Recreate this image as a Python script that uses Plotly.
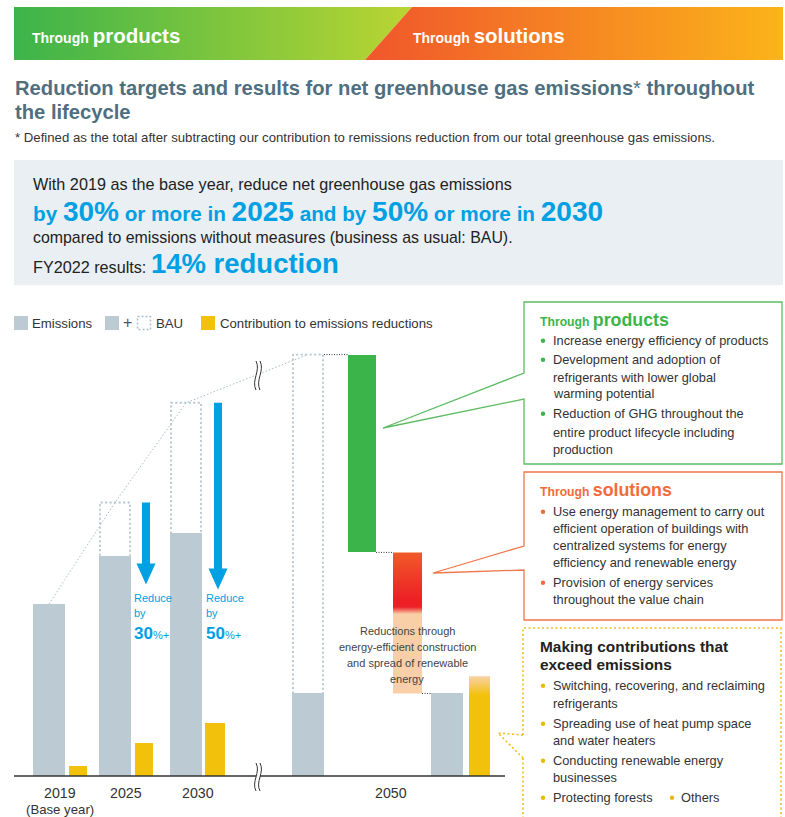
import plotly.graph_objects as go

# ---------------- data (index: 2019 emissions = 100) ----------------
years = ["2019", "2025", "2030", "2050"]
year_notes = ["(Base year)", "", "", ""]
emissions = [100, 128, 141, 48]
bau = [100, 159, 217, 245]
contribution = [6, 19, 31, 58]
reduction_target_pct = [0, 30, 50, 0]
reduction_2050 = [115, 35, 47]   # products, solutions, construction & renewables
legend_labels = ["Emissions", "BAU", "Contribution to emissions reductions"]

# ---------------- layout constants (pixels) ----------------
W, H = 785, 817
BASE_PX, PXU = 776, 1.72
EM_X = [49, 115, 186, 308]
EM_W = 32
CO_X = [78, 144, 215, 479.5]
CO_W = [18, 18, 20, 21]
NET_X = 447
STEP_X = [362, 407.5]
STEP_W = [28, 29]
ARROW_X = [None, 146, 218, None]

GRAY = "#bccbd3"
YEL = "#f2c10b"
BLUE = "#00a0e3"
GREEN = "#3bb54a"
ORANGE = "#f26b3a"
TXT = "#333333"
COND = "Liberation Sans Narrow, Arial Narrow, Liberation Sans, sans-serif"
NORM = "Liberation Sans, Arial, sans-serif"

fig = go.Figure()

def poly(xs, ys, axis="y", fillcolor=None, gradient=None):
    kw = dict(x=xs, y=ys, yaxis=axis, fill="toself", mode="lines",
              line=dict(width=0, color="rgba(0,0,0,0)"), hoverinfo="skip")
    if gradient is not None:
        kw["fillgradient"] = gradient
    else:
        kw["fillcolor"] = fillcolor
    fig.add_trace(go.Scatter(**kw))

def dline(xs, ys, color, width, dash, axis="y"):
    fig.add_trace(go.Scatter(x=xs, y=ys, yaxis=axis, mode="lines",
                             line=dict(color=color, width=width, dash=dash),
                             hoverinfo="skip"))

def txt(x, y, s, size, color=TXT, family=COND, xanchor="left", yanchor="middle", align="left"):
    fig.add_annotation(x=x, y=y, xref="x", yref="y2", text=s, showarrow=False,
                       font=dict(size=size, color=color, family=family),
                       xanchor=xanchor, yanchor=yanchor, align=align, borderpad=0)

def shape(**kw):
    kw.setdefault("xref", "x")
    kw.setdefault("yref", "y2")
    fig.add_shape(**kw)

# ---------------- header band ----------------
DT, DB = 412, 365
poly([14, DT, DB, 14, 14], [7, 7, 60, 60, 7], axis="y2",
     gradient=dict(type="horizontal", colorscale=[[0, "#3cb44a"], [1, "#bad532"]]))
poly([DT, 783, 783, DB, DT], [7, 7, 60, 60, 7], axis="y2",
     gradient=dict(type="horizontal", colorscale=[[0, "#f0562b"], [1, "#fbb41a"]]))
txt(31, 35, "<b>Through <span style='font-size:20.5px'>products</span></b>", 14, "white")
txt(412, 35, "<b>Through <span style='font-size:20.5px'>solutions</span></b>", 14, "white")

# ---------------- title ----------------
TITLE = "#4f6f7f"
txt(14, 88, "<b>Reduction targets and results for net greenhouse gas emissions</b>* <b>throughout</b>", 20.2, TITLE, NORM)
txt(14, 112, "<b>the lifecycle</b>", 20.2, TITLE, NORM)
txt(14, 137, "* Defined as the total after subtracting our contribution to remissions reduction from our total greenhouse gas emissions.", 13.2, TXT, NORM)

# ---------------- info box ----------------
shape(type="rect", x0=14, x1=783, y0=160, y1=285, fillcolor="#e9eff3", line_width=0, layer="below")
txt(32, 184, "With 2019 as the base year, reduce net greenhouse gas emissions", 16.2, "#222", NORM)
big = "<span style='font-size:28px'>%s</span>"
txt(32, 211, "<b>by " + big % "30%" + " or more in " + big % "2025" + " and by " + big % "50%"
    + " or more in " + big % "2030" + "</b>", 20.7, BLUE, NORM)
txt(32, 237, "compared to emissions without measures (business as usual: BAU).", 15.9, "#222", NORM)
txt(32, 263, "FY2022 results: <b><span style='font-size:27.5px;color:" + BLUE + "'>14% reduction</span></b>", 16.2, "#222", NORM)

# ---------------- legend ----------------
LEG = 13.2
shape(type="rect", x0=14, x1=28, y0=316, y1=330, fillcolor=GRAY, line_width=0)
txt(31, 323, legend_labels[0], LEG)
shape(type="rect", x0=105, x1=119, y0=316, y1=330, fillcolor=GRAY, line_width=0)
txt(127, 322, "+", 16, "#555", xanchor="center")
shape(type="rect", x0=137.5, x1=150.5, y0=316.5, y1=329.5, fillcolor="rgba(0,0,0,0)",
      line=dict(color="#aabdc9", width=1.5, dash="2px,2px"))
txt(155, 323, legend_labels[1], LEG)
shape(type="rect", x0=201, x1=215, y0=316, y1=330, fillcolor=YEL, line_width=0)
txt(219, 323, legend_labels[2], LEG)

# ---------------- bars ----------------
fig.add_trace(go.Bar(x=EM_X, y=emissions, width=EM_W, marker=dict(color=GRAY, line_width=0), hoverinfo="skip"))
net_2050 = bau[3] - sum(reduction_2050)
fig.add_trace(go.Bar(x=[NET_X], y=[net_2050], width=EM_W, marker=dict(color=GRAY, line_width=0), hoverinfo="skip"))
fig.add_trace(go.Bar(x=CO_X[:3], y=contribution[:3], width=CO_W[:3], marker=dict(color=YEL, line_width=0), hoverinfo="skip"))

# 2050 contribution (exceeds emissions -> peach top)
c3 = contribution[3]
xl, xr = CO_X[3] - CO_W[3] / 2, CO_X[3] + CO_W[3] / 2
f = net_2050 / c3
poly([xl, xr, xr, xl, xl], [0, 0, c3, c3, 0],
     gradient=dict(type="vertical", colorscale=[[0, YEL], [f - 0.02, YEL], [1, "#f8d2a6"]]))

# 2050 step: products (green)
lvl1 = bau[3] - reduction_2050[0]
fig.add_trace(go.Bar(x=[STEP_X[0]], y=[reduction_2050[0]], base=[lvl1], width=STEP_W[0],
                     marker=dict(color=GREEN, line_width=0), hoverinfo="skip"))
# solutions (red gradient) + construction/renewables (peach)
lvl2 = lvl1 - reduction_2050[1]
lvl3 = lvl2 - reduction_2050[2]
xl, xr = STEP_X[1] - STEP_W[1] / 2, STEP_X[1] + STEP_W[1] / 2
fp = (lvl2 - lvl3) / (lvl1 - lvl3)
poly([xl, xr, xr, xl, xl], [lvl3, lvl3, lvl1, lvl1, lvl3],
     gradient=dict(type="vertical", colorscale=[[0, "#f8cfa6"], [fp - 0.01, "#f8cfa6"],
                                               [fp + 0.04, "#ec2027"], [fp + 0.09, "#ed1f25"],
                                               [1, "#f15a29"]]))

# BAU dotted boxes
for i in (1, 2, 3):
    x0, x1 = EM_X[i] - EM_W / 2 + 1, EM_X[i] + EM_W / 2 - 1
    dline([x0, x0, x1, x1], [emissions[i], bau[i], bau[i], emissions[i]], "#b3c5d0", 1.8, "2px,2.5px")

# BAU trend line
dline(EM_X, bau, "#aabdca", 1, "1.5px,2px")

# connectors
dline([EM_X[3] + EM_W / 2, STEP_X[0] - STEP_W[0] / 2], [bau[3], bau[3]], "#333", 1, "1px,1.5px")
dline([STEP_X[0] + STEP_W[0] / 2, STEP_X[1] - STEP_W[1] / 2], [lvl1, lvl1], "#333", 1, "1px,1.5px")
dline([STEP_X[1] + STEP_W[1] / 2, NET_X - EM_W / 2], [lvl3, lvl3], "#333", 1, "1px,1.5px")

# blue arrows
for i in (1, 2):
    c = ARROW_X[i]
    top = bau[i]
    tip = bau[i] * (1 - reduction_target_pct[i] / 100)
    hh = 21 / PXU
    sw, hw = 4, 9.5
    poly([c - sw, c + sw, c + sw, c + hw, c, c - hw, c - sw, c - sw],
         [top, top, tip + hh, tip + hh, tip, tip + hh, tip + hh, top], fillcolor=BLUE)
    lx = c - 13.5
    txt(lx, 598, "Reduce", 11, BLUE)
    txt(lx, 613, "by", 11, BLUE)
    txt(lx, 633, "<b>" + str(reduction_target_pct[i]) + "</b><span style='font-size:11px'>%+</span>", 17, BLUE)

# baseline
shape(type="line", x0=14, x1=505, y0=776, y1=776, line=dict(color="#333", width=1.5))

# axis break marks
def break_mark(xc, y0, y1):
    h = y1 - y0
    a, b = xc - 2, xc + 2
    band = (f"M {a},{y0} C {a+5},{y0+h*0.33} {a-5},{y0+h*0.67} {a},{y1} "
            f"L {b},{y1} C {b-5},{y0+h*0.67} {b+5},{y0+h*0.33} {b},{y0} Z")
    shape(type="path", path=band, fillcolor="white", line_width=0, layer="above")
    for x in (a, b):
        shape(type="path", path=f"M {x},{y0} C {x+5},{y0+h*0.33} {x-5},{y0+h*0.67} {x},{y1}",
              line=dict(color="#333", width=1), layer="above")

break_mark(258, 361, 390)
break_mark(258, 763, 791)

# year labels
groups = [(EM_X[0] - EM_W / 2, CO_X[0] + CO_W[0] / 2), (EM_X[1] - EM_W / 2, CO_X[1] + CO_W[1] / 2),
          (EM_X[2] - EM_W / 2, CO_X[2] + CO_W[2] / 2), (EM_X[3] - EM_W / 2, CO_X[3] + CO_W[3] / 2)]
for (g0, g1), yr, note in zip(groups, years, year_notes):
    txt((g0 + g1) / 2, 793, yr, 14.2, xanchor="center")
    if note:
        txt((g0 + g1) / 2, 809, note, 13.2, xanchor="center")

# peach note
for k, line in enumerate(["Reductions through", "energy-efficient construction",
                          "and spread of renewable", "energy"]):
    txt(407, 631 + 16 * k, line, 11, "#444", xanchor="center")

# ---------------- right-hand boxes ----------------
shape(type="path", path="M 524,373 L 524,302 L 782,302 L 782,464 L 524,464 L 524,399 L 383,428 Z",
      line=dict(color="#5dbb63", width=1.3))
shape(type="path", path="M 524,546 L 524,472 L 782,472 L 782,620 L 524,620 L 524,570 L 433,573 Z",
      line=dict(color="#f0764a", width=1.3))
shape(type="path", path="M 523,735 L 523,628 L 781,628 L 781,835 M 523,758 L 523,835 M 523,735 L 498,733 L 523,758",
      line=dict(color="#f0be1e", width=1.6, dash="2px,2.5px"))

BOX = 12.8

def bullets(groups_lines, ys, color, tx=552, bx=543):
    k = 0
    for grp in groups_lines:
        shape(type="circle", x0=bx - 2.2, x1=bx + 2.2, y0=ys[k] - 1.5, y1=ys[k] + 2.9,
              fillcolor=color, line_width=0)
        for line in grp:
            txt(tx, ys[k], line, BOX)
            k += 1

txt(539, 320, "<b>Through <span style='font-size:17.8px'>products</span></b>", 12.2, GREEN)
bullets([["Increase energy efficiency of products"],
         ["Development and adoption of", "refrigerants with lower global", "warming potential"],
         ["Reduction of GHG throughout the", "entire product lifecycle including", "production"]],
        [340, 359, 377, 393, 413, 432, 449], GREEN)

txt(539, 490, "<b>Through <span style='font-size:17.8px'>solutions</span></b>", 12.2, ORANGE)
bullets([["Use energy management to carry out", "efficient operation of buildings with",
          "centralized systems for energy", "efficiency and renewable energy"],
         ["Provision of energy services", "throughout the value chain"]],
        [511, 528, 545, 562, 582, 599], ORANGE)

txt(539, 646, "<b>Making contributions that</b>", 15.4, "#222")
txt(539, 664, "<b>exceed emissions</b>", 15.4, "#222")
bullets([["Switching, recovering, and reclaiming", "refrigerants"],
         ["Spreading use of heat pump space", "and water heaters"],
         ["Conducting renewable energy", "businesses"],
         ["Protecting forests"]],
        [685, 703, 723, 740, 760, 777, 797], "#e9b90e")
shape(type="circle", x0=672 - 2.2, x1=672 + 2.2, y0=797 - 1.5, y1=797 + 2.9, fillcolor="#e9b90e", line_width=0)
txt(680, 797, "Others", BOX)

fig.update_layout(
    width=W, height=H, margin=dict(l=0, r=0, t=0, b=0),
    paper_bgcolor="white", plot_bgcolor="white", showlegend=False,
    barmode="overlay", bargap=0,
    xaxis=dict(range=[0, W], visible=False, fixedrange=True),
    yaxis=dict(range=[(BASE_PX - H) / PXU, BASE_PX / PXU], visible=False, fixedrange=True),
    yaxis2=dict(range=[H, 0], overlaying="y", visible=False, fixedrange=True),
)

fig.write_html("out.html", config={"displayModeBar": False},
               post_script="document.body.style.margin='0';document.body.style.overflow='hidden';")
